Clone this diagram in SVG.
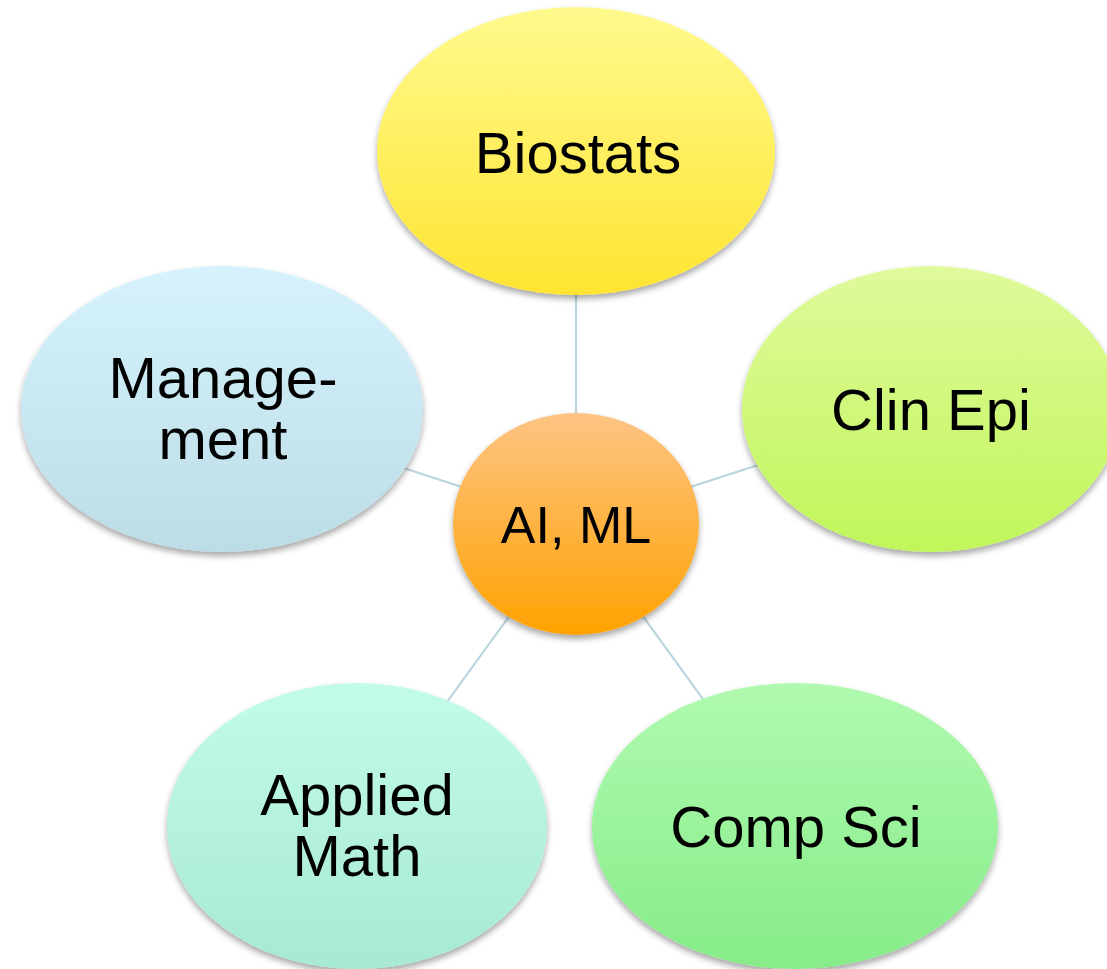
<svg xmlns="http://www.w3.org/2000/svg" width="1107" height="969" viewBox="0 0 1107 969">
  <style>
    .link { stroke: #bcd6e0; stroke-width: 2.2; fill: none; }
    .label { font-family: "Liberation Sans", Arial, sans-serif; fill: #000; text-anchor: middle; }
    .big { font-size: 58px; }
    .hub { font-size: 52px; }
    .bubble { filter: url(#shade); }
  </style>
  <defs>
    <filter id="shade" x="-10%" y="-10%" width="120%" height="125%">
      <feDropShadow dx="0" dy="4" stdDeviation="3" flood-color="#000" flood-opacity="0.35"/>
    </filter>
    <linearGradient id="gYellow" x1="0" y1="0" x2="0" y2="1">
      <stop offset="0" stop-color="#fffa8e"/>
      <stop offset="1" stop-color="#ffe431"/>
    </linearGradient>
    <linearGradient id="gOrange" x1="0" y1="0" x2="0" y2="1">
      <stop offset="0" stop-color="#fdc484"/>
      <stop offset="1" stop-color="#ffa200"/>
    </linearGradient>
    <linearGradient id="gBlue" x1="0" y1="0" x2="0" y2="1">
      <stop offset="0" stop-color="#d6f3fd"/>
      <stop offset="1" stop-color="#bcdce6"/>
    </linearGradient>
    <linearGradient id="gLime" x1="0" y1="0" x2="0" y2="1">
      <stop offset="0" stop-color="#e0fa9c"/>
      <stop offset="1" stop-color="#c0f65a"/>
    </linearGradient>
    <linearGradient id="gMint" x1="0" y1="0" x2="0" y2="1">
      <stop offset="0" stop-color="#c2fbea"/>
      <stop offset="1" stop-color="#a7e9d4"/>
    </linearGradient>
    <linearGradient id="gGreen" x1="0" y1="0" x2="0" y2="1">
      <stop offset="0" stop-color="#b0fab0"/>
      <stop offset="1" stop-color="#86ec88"/>
    </linearGradient>
  </defs>

  <rect width="1107" height="969" fill="#ffffff"/>

  <!-- spokes from the hub to each topic -->
  <g id="connectors">
    <line class="link" x1="576" y1="524" x2="576" y2="151"/>
    <line class="link" x1="576" y1="524" x2="222" y2="409"/>
    <line class="link" x1="576" y1="524" x2="931" y2="409"/>
    <line class="link" x1="576" y1="524" x2="357" y2="826"/>
    <line class="link" x1="576" y1="524" x2="795" y2="826"/>
  </g>

  <g id="biostats">
    <ellipse class="bubble" cx="576" cy="151" rx="199" ry="144" fill="url(#gYellow)"/>
    <text class="label big" x="578" y="173">Biostats</text>
  </g>

  <g id="management">
    <ellipse class="bubble" cx="222" cy="409" rx="201" ry="143" fill="url(#gBlue)"/>
    <text class="label big" x="223" y="398">Manage-</text>
    <text class="label big" x="223" y="459">ment</text>
  </g>

  <g id="clin-epi">
    <ellipse class="bubble" cx="931" cy="409" rx="189" ry="143" fill="url(#gLime)"/>
    <text class="label big" x="931" y="430">Clin Epi</text>
  </g>

  <g id="applied-math">
    <ellipse class="bubble" cx="357" cy="826" rx="190" ry="143" fill="url(#gMint)"/>
    <text class="label big" x="357" y="815">Applied</text>
    <text class="label big" x="357" y="876">Math</text>
  </g>

  <g id="comp-sci">
    <ellipse class="bubble" cx="795" cy="826" rx="203" ry="143" fill="url(#gGreen)"/>
    <text class="label big" x="796" y="847">Comp Sci</text>
  </g>

  <g id="ai-ml">
    <ellipse class="bubble" cx="576" cy="524" rx="123" ry="111" fill="url(#gOrange)"/>
    <text class="label hub" x="576" y="543">AI, ML</text>
  </g>
</svg>
